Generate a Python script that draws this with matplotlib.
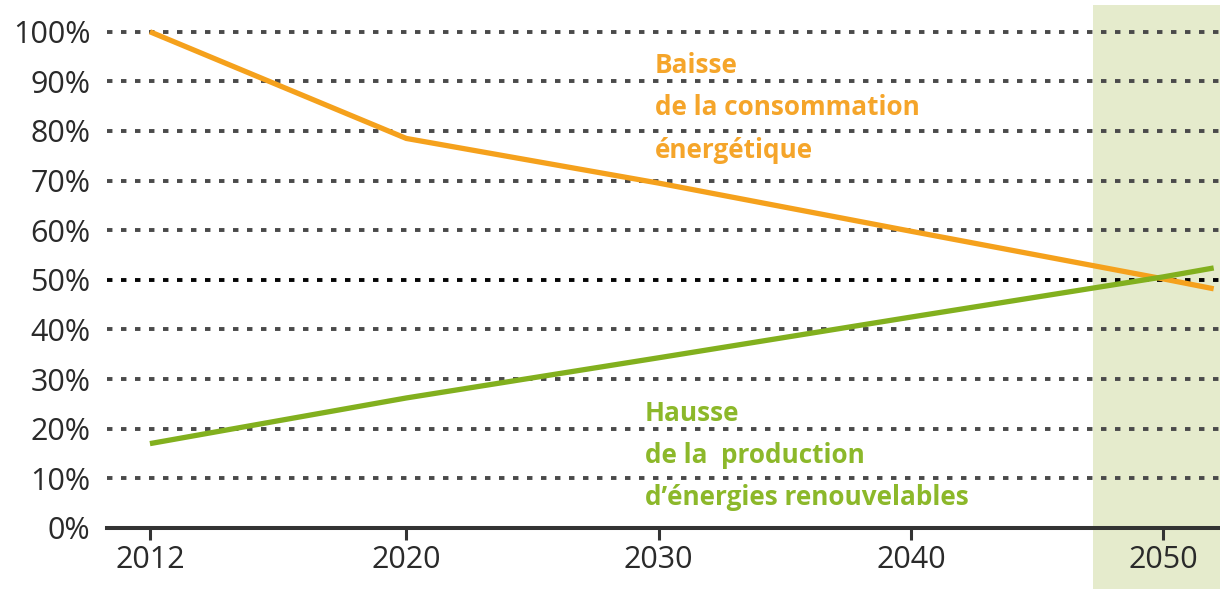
import numpy as np
import matplotlib.pyplot as plt

# valeurs (en %)
years = [2012, 2020, 2030, 2040, 2050, 2052]
consommation = [100, 78.5, 69.5, 59.8, 50.2, 48.2]
renouvelables = [17, 26.2, 34.3, 42.5, 50.6, 52.4]
tick_years = [2012, 2020, 2030, 2040, 2050]
pct_ticks = list(range(0, 101, 10))
band_start = 2047.2

orange = '#f5a11c'
green = '#82b01e'

# l'axe des x est plus etire avant 2020
k = 1.27
def fwd(x):
    x = np.asarray(x, dtype=float)
    return np.where(x < 2020, 2020 + (x - 2020) * k, x)

def inv(y):
    y = np.asarray(y, dtype=float)
    return np.where(y < 2020, 2020 + (y - 2020) / k, y)

plt.rcParams['font.family'] = ['Open Sans', 'DejaVu Sans']

fig = plt.figure(figsize=(12.2, 5.89), dpi=100)
ax = fig.add_axes([0.0877, 0.1036, 0.9123, 0.888])
ax.set_xscale('function', functions=(fwd, inv))
ax.set_xlim(2010.66, 2052.25)
ax.set_ylim(0, 105.4)

ax.axvspan(band_start, 2052.25, ymin=-0.12, ymax=1, color='#e5ebcc', lw=0,
           zorder=0, clip_on=False)

for p in pct_ticks[1:]:
    c = '#050505' if p == 50 else '#4a4a4a'
    ax.axhline(p, color=c, lw=2.8, ls=(0, (1.4, 2.2)), zorder=1)

ax.plot(years, consommation, color=orange, lw=3.8, zorder=3, solid_capstyle='butt')
ax.plot(years, renouvelables, color=green, lw=3.8, zorder=3, solid_capstyle='butt')

for s in ['top', 'right', 'left']:
    ax.spines[s].set_visible(False)
ax.spines['bottom'].set_linewidth(2.9)
ax.spines['bottom'].set_color('#333333')
ax.spines['bottom'].set_zorder(4)

ax.set_xticks(tick_years)
ax.set_xticklabels([str(y) for y in tick_years])
ax.xaxis.set_minor_locator(plt.NullLocator())
ax.tick_params(axis='x', length=8.6, width=2.2, color='#333333', labelsize=22,
               labelcolor='#2a2a2a', pad=4)
ax.set_yticks(pct_ticks)
ax.set_yticklabels([f'{p}%' for p in pct_ticks])
ax.tick_params(axis='y', length=0, pad=12, labelsize=22, labelcolor='#2a2a2a')

ax.text(0.492, 0.803, 'Baisse\nde la consommation\nénergétique', transform=ax.transAxes,
        color='#f5a52a', fontsize=18.8, fontweight='bold', va='center', ha='left',
        linespacing=1.72)
ax.text(0.4834, 0.138, 'Hausse\nde la  production\nd\u2019énergies renouvelables',
        transform=ax.transAxes, color='#8cb82a', fontsize=18.8, fontweight='bold',
        va='center', ha='left', linespacing=1.72)

fig.savefig('out.png', dpi=100)
